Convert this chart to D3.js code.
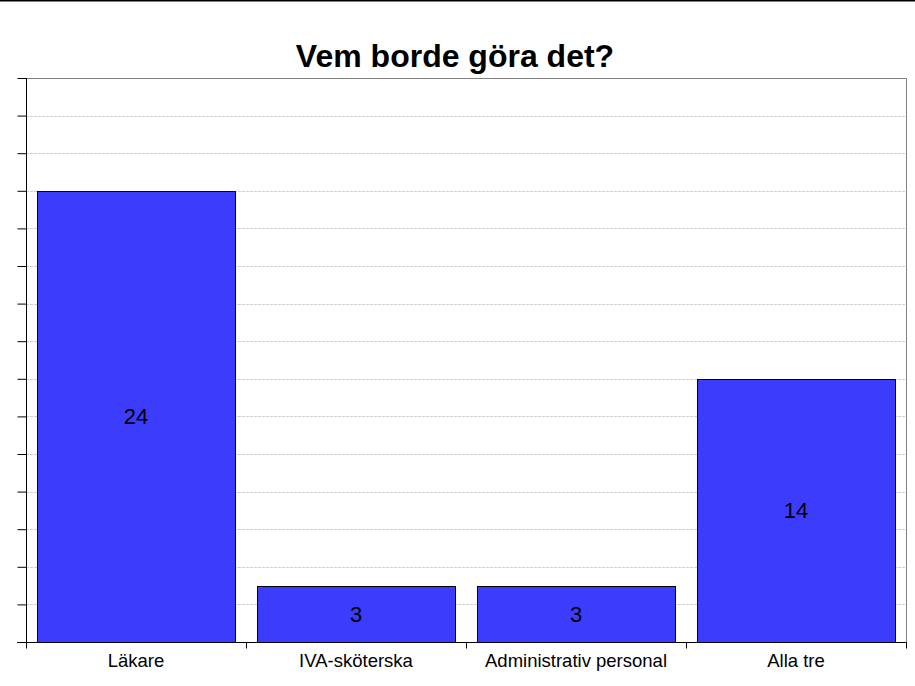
<!DOCTYPE html>
<html>
<head>
<meta charset="utf-8">
<script src="https://cdn.jsdelivr.net/npm/d3@7"></script>
<style>
  body { margin: 0; background: #fff; }
  svg { display: block; font-family: Arial, "Liberation Sans", sans-serif; }
</style>
</head>
<body>
<svg id="chart" width="915" height="686"></svg>
<script>
const categories = ["Läkare", "IVA-sköterska", "Administrativ personal", "Alla tre"]
const counts = [24, 3, 3, 14]
const yTicks = d3.range(0, 31, 2)

const width = 915, height = 686
const margin = { top: 78, right: 9, bottom: 44, left: 26 }

const svg = d3.select("#chart")

// thin frame line along the top of the page
svg.append("line")
    .attr("x1", 0).attr("x2", width)
    .attr("y1", 0.5).attr("y2", 0.5)
    .style("stroke", "#000")
    .style("stroke-width", 2)

const x = d3.scaleBand()
    .domain(categories)
    .range([margin.left, width - margin.right])
    .paddingInner(0.1)
    .paddingOuter(0.05)

const y = d3.scaleLinear()
    .domain([0, 30])
    .range([height - margin.bottom, margin.top])

// title
svg.append("text")
    .attr("x", 455)
    .attr("y", 67)
    .attr("text-anchor", "middle")
    .style("font-size", "32px")
    .style("font-weight", "bold")
    .text("Vem borde göra det?")

// gridlines
svg.append("g")
    .selectAll("line")
    .data(yTicks.filter(d => d > 0 && d < 30))
    .join("line")
    .attr("x1", margin.left).attr("x2", width - margin.right)
    .attr("y1", d => Math.round(y(d)) + 0.5).attr("y2", d => Math.round(y(d)) + 0.5)
    .style("stroke", "#cfcfcf")
    .style("stroke-dasharray", "3,1")

// plot frame (top and right, gray)
svg.append("path")
    .attr("d", `M${margin.left},${y(30) + 0.5}H${width - margin.right + 0.5}V${y(0)}`)
    .style("fill", "none")
    .style("stroke", "#808080")

// bars
svg.append("g")
    .selectAll("rect")
    .data(categories)
    .join("rect")
    .attr("x", d => Math.round(x(d)) + 0.5)
    .attr("y", (d, i) => Math.round(y(counts[i])) + 0.5)
    .attr("width", x.bandwidth())
    .attr("height", (d, i) => Math.round(y(0)) - Math.round(y(counts[i])))
    .style("fill", "#3c3cfc")
    .style("stroke", "#000")
    .style("stroke-width", 1)

// value labels inside the bars
svg.append("g")
    .selectAll("text")
    .data(categories)
    .join("text")
    .attr("x", d => x(d) + x.bandwidth() / 2)
    .attr("y", (d, i) => (y(counts[i]) + y(0)) / 2)
    .attr("dy", "0.35em")
    .attr("text-anchor", "middle")
    .style("font-size", "22px")
    .text((d, i) => counts[i])

// y axis: ticks only, no labels
const yAxis = svg.append("g")
    .attr("transform", `translate(${margin.left + 0.5},0)`)
    .call(d3.axisLeft(y).tickValues(yTicks).tickSize(9).tickFormat(""))
yAxis.select(".domain").attr("d", `M0,${y(30)}V${y(0)}`)

// x axis: tick marks at the band boundaries
const xAxis = svg.append("g")
    .attr("transform", `translate(0,${Math.round(y(0)) + 0.5})`)
xAxis.append("line")
    .attr("x1", margin.left - 9).attr("x2", width - margin.right + 1)
    .style("stroke", "#000")
const boundaries = categories.map(d => x(d) - x.step() * x.paddingInner() / 2)
    .concat([width - margin.right])
xAxis.selectAll("line.tick")
    .data(boundaries)
    .join("line")
    .attr("class", "tick")
    .attr("x1", d => Math.round(d) + 0.5).attr("x2", d => Math.round(d) + 0.5)
    .attr("y1", 0).attr("y2", 6)
    .style("stroke", "#000")
xAxis.selectAll("text")
    .data(categories)
    .join("text")
    .attr("x", d => x(d) + x.bandwidth() / 2)
    .attr("y", 24)
    .attr("text-anchor", "middle")
    .style("font-size", "18.5px")
    .text(d => d)
</script>
</body>
</html>
